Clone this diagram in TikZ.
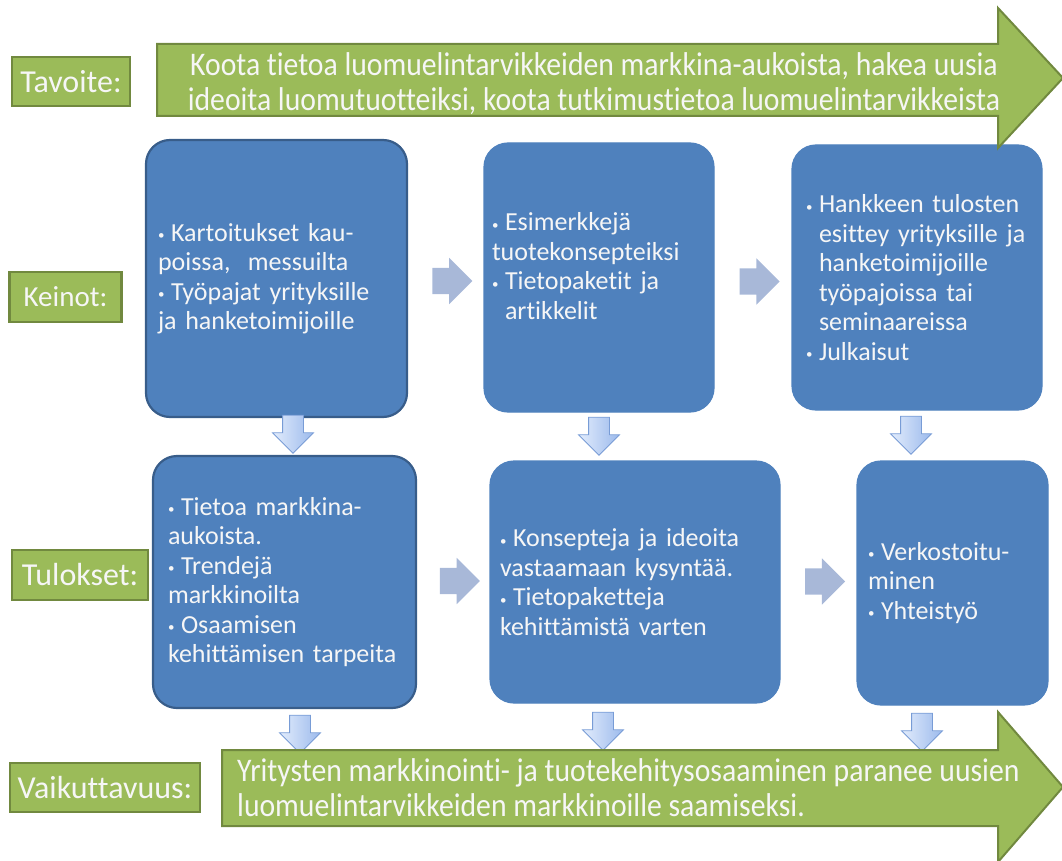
\documentclass[tikz,border=0pt]{standalone}
\usepackage{fontspec}
\setmainfont{Carlito}[Ligatures=NoCommon]
\newfontfamily\narrowfont{Carlito}[FakeStretch=0.9,Ligatures=NoCommon]
\usetikzlibrary{shapes.arrows,calc}

\definecolor{boxblue}{RGB}{79,129,189}
\definecolor{boxedge}{RGB}{56,93,138}
\definecolor{leaf}{RGB}{155,187,89}
\definecolor{leafedge}{RGB}{113,137,63}
\definecolor{pale}{RGB}{168,184,216}
\definecolor{downtop}{RGB}{226,236,252}
\definecolor{downbot}{RGB}{156,186,236}
\definecolor{downedge}{RGB}{120,156,214}
\definecolor{ink}{RGB}{246,246,246}

% bullet and hanging indent used in the box texts
\newcommand\bp{\makebox[13pt][l]{\raisebox{1.5pt}{\fontsize{13}{13}\selectfont\textbullet}}}
\newcommand\hgap{\hspace*{13pt}}

\tikzset{
  card/.style={draw=boxblue, line width=1.2pt, fill=boxblue, rounded corners=24pt,
    text=ink, align=left, inner ysep=0pt,
    font=\fontsize{26}{29.5}\selectfont},
  framed/.style={draw=boxedge, line width=2.2pt},
  tag/.style={draw=leafedge, line width=2.5pt, fill=leaf, text=ink,
    font=\fontsize{32}{34}\selectfont, inner sep=0pt},
  goal/.style={draw=leafedge, line width=2pt, fill=leaf, line join=miter},
  goaltext/.style={text=ink, inner sep=0pt, font=\narrowfont\fontsize{33}{35}\selectfont},
  sidearrow/.style={single arrow, fill=pale, minimum height=40pt,
    inner xsep=0pt, inner ysep=13pt,
    single arrow head extend=10pt, single arrow head indent=0pt},
  droparrow/.style={single arrow, rotate=-90, draw=downedge, line width=0.8pt,
    left color=downtop, right color=downbot, minimum height=38pt,
    inner xsep=0pt, inner ysep=10pt,
    single arrow head extend=10pt, single arrow head indent=0pt},
}

\begin{document}
\begin{tikzpicture}[x=1pt,y=-1pt]
\useasboundingbox (0,0) rectangle (1062,861);

% row labels
\node[tag, minimum width=118pt, minimum height=49pt] (tavoite) at (71,81.5) {Tavoite:};
\node[tag, minimum width=112pt, minimum height=50pt, font=\fontsize{29}{30}\selectfont] (keinot) at (65.5,297) {Keinot:};
\node[tag, minimum width=136pt, minimum height=50pt] (tulokset) at (80,575) {Tulokset:};
\node[tag, minimum width=190pt, minimum height=49pt] (vaik) at (105,787.5) {Vaikuttavuus:};

% means
\node[card, framed, inner xsep=12pt, text width=237pt, minimum height=277pt] (b1) at (276.5,278.5)
  {\bp Kartoitukset kau-\\poissa,\ \ messuilta\\\bp Työpajat yrityksille\\ja hanketoimijoille};
\node[card, inner xsep=8pt, text width=214pt, minimum height=269pt] (b2) at (599,277.5)
  {\bp Esimerkkejä\\tuotekonsepteiksi\\\bp Tietopaketit ja\\\hgap artikkelit\\[-6pt]\mbox{}};
\node[card, inner xsep=14pt, text width=222pt, minimum height=265pt] (b3) at (917,277.5)
  {\bp Hankkeen tulosten\\\hgap esittey yrityksille ja\\\hgap hanketoimijoille\\\hgap työpajoissa tai\\\hgap seminaareissa\\\bp Julkaisut};

% results
\node[card, framed, inner xsep=15pt, text width=233pt, minimum height=252pt] (b4) at (284.5,582)
  {\bp Tietoa markkina-\\aukoista.\\\bp Trendejä\\markkinoilta\\\bp Osaamisen\\kehittämisen tarpeita};
\node[card, inner xsep=10pt, text width=270pt, minimum height=242pt] (b5) at (635,582)
  {\bp Konsepteja ja ideoita\\vastaamaan kysyntää.\\\bp Tietopaketteja\\kehittämistä varten};
\node[card, inner xsep=11pt, text width=169pt, minimum height=244pt] (b6) at (952.5,583)
  {\bp Verkostoitu-\\minen\\\bp Yhteistyö};

% arrows between the boxes of a row
\node[sidearrow] (r1) at ($(b1.east)!0.5!(b2.west)+(0,3)$) {};
\node[sidearrow] (r2) at ($(b2.east)!0.5!(b3.west)+(0,4)$) {};
\node[sidearrow] (r3) at ($(b4.east)!0.5!(b5.west)+(0,-1)$) {};
\node[sidearrow] (r4) at ($(b5.east)!0.5!(b6.west)+(0,-1)$) {};

% arrows from a box down to the next row
\node[droparrow] (d1) at (293,429) {};
\node[droparrow] (d2) at (599,431) {};
\node[droparrow] (d3) at (911,430) {};
\node[droparrow] (d4) at (300,729) {};
\node[droparrow] (d5) at (603,726) {};
\node[droparrow] (d6) at (922,727) {};

% goal arrow
\draw[goal] (157,44) -- (998,44) -- (998,8) -- (1063,78) -- (998,148) -- (998,116) -- (157,116) -- cycle;
\node[goaltext, align=center] (goaltxt) at (594,84)
  {Koota tietoa luomuelintarvikkeiden markkina-aukoista, hakea uusia\\ideoita luomutuotteiksi, koota tutkimustietoa luomuelintarvikkeista};

% impact arrow
\draw[goal] (222,750) -- (998,750) -- (998,712) -- (1063,787) -- (998,862) -- (998,826) -- (222,826) -- cycle;
\node[goaltext, align=left, anchor=west] (impacttxt) at (237,788)
  {Yritysten markkinointi- ja tuotekehitysosaaminen paranee uusien\\luomuelintarvikkeiden markkinoille saamiseksi.};
\end{tikzpicture}
\end{document}
